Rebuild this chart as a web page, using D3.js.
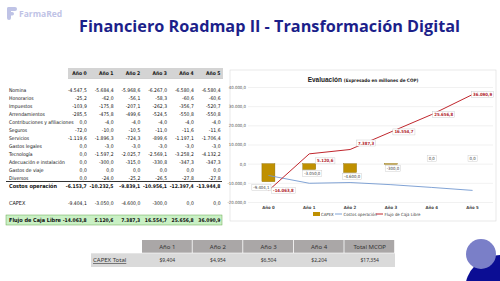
<!DOCTYPE html>
<html>
<head>
<meta charset="utf-8">
<script src="https://cdn.jsdelivr.net/npm/d3@7"></script>
<style>
body { margin: 0; background: #fff; }
svg { display: block; }
</style>
</head>
<body>
<svg id="chart" width="500" height="281"></svg>
<script>
// ---- data ----
const years = ["Año 0", "Año 1", "Año 2", "Año 3", "Año 4", "Año 5"];

const nomina = [-4547.5, -5684.4, -5968.6, -6267.0, -6580.4, -6580.4];
const honorarios = [-25.2, -62.0, -56.1, -58.3, -60.6, -60.6];
const impuestos = [-103.9, -175.8, -207.1, -262.3, -356.7, -520.7];
const arrendamientos = [-285.5, -475.8, -499.6, -524.5, -550.8, -550.8];
const contribuciones = [0.0, -4.0, -4.0, -4.0, -4.0, -4.0];
const seguros = [-72.0, -10.0, -10.5, -11.0, -11.6, -11.6];
const servicios = [-1119.6, -1896.3, -724.3, -899.6, -1197.1, -1706.4];
const gastosLegales = [0.0, -3.0, -3.0, -3.0, -3.0, -3.0];
const tecnologia = [0.0, -1597.2, -2025.7, -2569.1, -3258.2, -4132.2];
const adecuacion = [0.0, -300.0, -315.0, -330.8, -347.3, -347.3];
const gastosViaje = [0.0, 0.0, 0.0, 0.0, 0.0, 0.0];
const diversos = [0.0, -24.0, -25.2, -26.5, -27.8, -27.8];

const costosOperacion = [-6153.7, -10232.5, -9839.1, -10956.1, -12397.4, -13944.8];
const capex = [-9404.1, -3050.0, -4600.0, -300.0, 0.0, 0.0];
const flujoCaja = [-14063.8, 5120.6, 7387.3, 16554.7, 25656.8, 36090.9];

const yTicks = [-20000, -10000, 0, 10000, 20000, 30000, 40000];

const capexYears = ["Año 1", "Año 2", "Año 3", "Año 4"];
const capexTotal = [9404, 4954, 6504, 2204];
const capexTotalMcop = 17354;

const costRows = [
    ["Nomina", nomina],
    ["Honorarios", honorarios],
    ["Impuestos", impuestos],
    ["Arrendamientos", arrendamientos],
    ["Contribuciones y afiliaciones", contribuciones],
    ["Seguros", seguros],
    ["Servicios", servicios],
    ["Gastos legales", gastosLegales],
    ["Tecnología", tecnologia],
    ["Adecuación e instalación", adecuacion],
    ["Gastos de viaje", gastosViaje],
    ["Diversos", diversos]
];

// ---- helpers ----
const svg = d3.select("#chart");
const narrow = "'Liberation Sans Narrow','DejaVu Sans Condensed',Arial,sans-serif";
const arial = "'Liberation Sans',Arial,sans-serif";
const fmt = d3.formatLocale({decimal: ",", thousands: ".", grouping: [3], currency: ["$", ""], minus: "-"}).format(",.1f");
const usd = d3.format("$,.0f");

// ---- header ----
const logo = svg.append("g").attr("fill", "#bfc3e6");
logo.append("rect").attr("x", 7).attr("y", 7).attr("width", 10).attr("height", 4).attr("rx", 2);
logo.append("rect").attr("x", 7).attr("y", 12).attr("width", 7).attr("height", 3.5).attr("rx", 1.7);
logo.append("rect").attr("x", 7).attr("y", 7).attr("width", 4).attr("height", 13).attr("rx", 2);
svg.append("text")
    .attr("x", 19).attr("y", 16.5)
    .style("font-family", "'Open Sans',sans-serif")
    .style("font-weight", "bold")
    .style("font-size", "8.5px")
    .style("fill", "#bfc3e6")
    .text("FarmaRed");

svg.append("text")
    .attr("x", 79).attr("y", 32)
    .attr("textLength", 381)
    .attr("lengthAdjust", "spacingAndGlyphs")
    .style("font-family", "'Open Sans',sans-serif")
    .style("font-weight", "bold")
    .style("font-size", "16px")
    .style("fill", "#1c1f8a")
    .text("Financiero Roadmap II - Transformación Digital");

// ---- left table ----
const tCol = d3.scaleBand().domain(years).range([62, 222.5]);
const tRight = yr => tCol(yr) + tCol.bandwidth() - 2;

svg.append("rect").attr("x", 68).attr("y", 68).attr("width", 155).attr("height", 10).attr("fill", "#d4d4d4");
svg.append("line").attr("x1", 68).attr("x2", 223).attr("y1", 78.5).attr("y2", 78.5).attr("stroke", "#a0a0a0").attr("stroke-width", 0.5);

function tableText(x, y, txt, anchor, bold, size) {
    return svg.append("text")
        .attr("x", x).attr("y", y).attr("dy", "0.35em")
        .attr("text-anchor", anchor)
        .style("font-family", narrow)
        .style("font-weight", bold ? "bold" : "normal")
        .style("font-size", (size || 5) + "px")
        .style("fill", "#111")
        .text(txt);
}

years.forEach(yr => tableText(tRight(yr), 73.5, yr, "end", true));

costRows.forEach((row, i) => {
    const ry = 90 + 8 * i;
    tableText(9, ry, row[0], "start", false);
    row[1].forEach((v, j) => tableText(tRight(years[j]), ry, fmt(v), "end", false));
});

svg.append("line").attr("x1", 6).attr("x2", 222).attr("y1", 181.5).attr("y2", 181.5).attr("stroke", "#000").attr("stroke-width", 0.8);
tableText(9, 186.5, "Costos operación", "start", true, 5.5);
costosOperacion.forEach((v, j) => tableText(tRight(years[j]), 186.5, fmt(v), "end", true));

tableText(9, 203, "CAPEX", "start", false, 5.5);
capex.forEach((v, j) => tableText(tRight(years[j]), 203, fmt(v), "end", false));

svg.append("rect").attr("x", 6).attr("y", 215).attr("width", 216).attr("height", 10)
    .attr("fill", "#c9f0c4").attr("stroke", "#6aa84f").attr("stroke-width", 0.5);
tableText(9, 220, "Flujo de Caja Libre", "start", true, 5.5);
flujoCaja.forEach((v, j) => tableText(tRight(years[j]), 220, fmt(v), "end", true));

// ---- chart panel ----
svg.append("rect").attr("x", 230).attr("y", 70).attr("width", 266).attr("height", 151)
    .attr("fill", "#fff").attr("stroke", "#d9d9d9").attr("stroke-width", 0.6);

const ct = svg.append("text").attr("x", 363).attr("y", 82).attr("text-anchor", "middle")
    .style("font-family", arial).style("font-weight", "bold").style("fill", "#222");
ct.append("tspan").style("font-size", "6.5px").text("Evaluación ");
ct.append("tspan").style("font-size", "4.6px").style("font-family", narrow).text("(Expresado en millones de COP)");

const x = d3.scaleBand().domain(years).range([248, 493]);
const y = d3.scaleLinear().domain([-20000, 40000]).range([202, 87]);
const cx = yr => x(yr) + x.bandwidth() / 2;

const yAxis = svg.append("g")
    .attr("transform", "translate(248,0)")
    .call(d3.axisLeft(y).tickValues(yTicks).tickSize(-245).tickPadding(2).tickFormat(fmt));
yAxis.select(".domain").remove();
yAxis.selectAll("line").attr("stroke", "#e3e3e3").attr("stroke-width", 0.5);
yAxis.selectAll("text").style("font-family", narrow).style("font-size", "4.3px").style("fill", "#555");

const xAxis = svg.append("g")
    .attr("transform", "translate(0,202)")
    .call(d3.axisBottom(x).tickSize(0).tickPadding(4));
xAxis.select(".domain").remove();
xAxis.selectAll("text").style("font-family", narrow).style("font-size", "4.3px").style("font-weight", "bold").style("fill", "#444");

// CAPEX bars
svg.append("g").selectAll("rect")
    .data(capex)
    .join("rect")
    .attr("x", (d, i) => cx(years[i]) - 6.5)
    .attr("y", d => Math.min(y(d), y(0)))
    .attr("width", 13)
    .attr("height", d => Math.abs(y(d) - y(0)))
    .attr("fill", "#bf9000")
    .attr("stroke", "#8a6a00")
    .attr("stroke-width", 0.4);

// lines
const line = d3.line().x((d, i) => cx(years[i])).y(d => y(d));
svg.append("path").datum(costosOperacion).attr("d", line)
    .attr("fill", "none").attr("stroke", "#7399d0").attr("stroke-width", 0.9);
svg.append("path").datum(flujoCaja).attr("d", line)
    .attr("fill", "none").attr("stroke", "#c0262d").attr("stroke-width", 1);

// callout labels
function callout(px, py, txt, color, bold) {
    const g = svg.append("g");
    const t = g.append("text")
        .attr("x", px).attr("y", py).attr("dy", "0.35em")
        .attr("text-anchor", "middle")
        .style("font-family", narrow)
        .style("font-size", "4.3px")
        .style("font-weight", bold ? "bold" : "normal")
        .style("fill", color)
        .text(txt);
    const w = t.node().getComputedTextLength();
    g.insert("rect", () => t.node())
        .attr("x", px - w / 2 - 1.5).attr("y", py - 3)
        .attr("width", w + 3).attr("height", 6)
        .attr("fill", "#fff").attr("stroke", "#c4c4c4").attr("stroke-width", 0.4);
}

const capexNudge = [[-7, 6], [3, 4], [2, 4], [2, 4], [0, -5], [0, -5]];
capex.forEach((v, i) => callout(cx(years[i]) + capexNudge[i][0], y(v) + capexNudge[i][1], fmt(v), "#404040", false));

const flujoNudge = [[15, 0], [16, 7], [16, -6.5], [13, 0], [12, 0], [10, 0]];
flujoCaja.forEach((v, i) => callout(cx(years[i]) + flujoNudge[i][0], y(v) + flujoNudge[i][1], fmt(v), "#b0222a", true));

// legend
const legend = svg.append("g").style("font-family", narrow).style("font-size", "4.3px").style("fill", "#404040");
legend.append("rect").attr("x", 313).attr("y", 212).attr("width", 7).attr("height", 4).attr("fill", "#bf9000");
legend.append("text").attr("x", 321).attr("y", 214).attr("dy", "0.35em").text("CAPEX");
legend.append("line").attr("x1", 335).attr("x2", 342).attr("y1", 214).attr("y2", 214).attr("stroke", "#7399d0").attr("stroke-width", 0.9);
legend.append("text").attr("x", 343.5).attr("y", 214).attr("dy", "0.35em").text("Costos operación");
legend.append("line").attr("x1", 376).attr("x2", 383).attr("y1", 214).attr("y2", 214).attr("stroke", "#c0262d").attr("stroke-width", 1);
legend.append("text").attr("x", 384.5).attr("y", 214).attr("dy", "0.35em").text("Flujo de Caja Libre");

// ---- bottom CAPEX table ----
const bCols = capexYears.concat(["Total MCOP"]);
const bVals = capexTotal.concat([capexTotalMcop]);
const bx = d3.scaleBand().domain(bCols).range([142, 395]);
const gothic = "'Noto Sans','Open Sans',sans-serif";

svg.append("rect").attr("x", 91).attr("y", 253).attr("width", 304).attr("height", 14).attr("fill", "#dadada");
svg.append("g").selectAll("rect")
    .data(bCols)
    .join("rect")
    .attr("x", d => bx(d))
    .attr("y", 240)
    .attr("width", bx.bandwidth() - 0.8)
    .attr("height", 13)
    .attr("fill", "#aaa7a7");
svg.append("line").attr("x1", 91).attr("x2", 395).attr("y1", 253).attr("y2", 253).attr("stroke", "#fff").attr("stroke-width", 0.6);

bCols.forEach(c => svg.append("text")
    .attr("x", bx(c) + bx.bandwidth() / 2).attr("y", 246.5).attr("dy", "0.35em")
    .attr("text-anchor", "middle")
    .style("font-family", gothic).style("font-size", "6px").style("fill", "#333")
    .text(c));
bVals.forEach((v, i) => svg.append("text")
    .attr("x", bx(bCols[i]) + bx.bandwidth() / 2).attr("y", 260).attr("dy", "0.35em")
    .attr("text-anchor", "middle")
    .style("font-family", gothic).style("font-size", "5px").style("fill", "#333")
    .text(usd(v)));
svg.append("text")
    .attr("x", 93).attr("y", 260).attr("dy", "0.35em")
    .style("font-family", gothic).style("font-size", "6px").style("fill", "#333")
    .style("text-decoration", "underline")
    .text("CAPEX Total");

// ---- decorative circles ----
svg.append("circle").attr("cx", 500).attr("cy", 290).attr("r", 35).attr("fill", "#0b0d94");
svg.append("circle").attr("cx", 481).attr("cy", 254).attr("r", 15).attr("fill", "#7a7fc8");
</script>
</body>
</html>
